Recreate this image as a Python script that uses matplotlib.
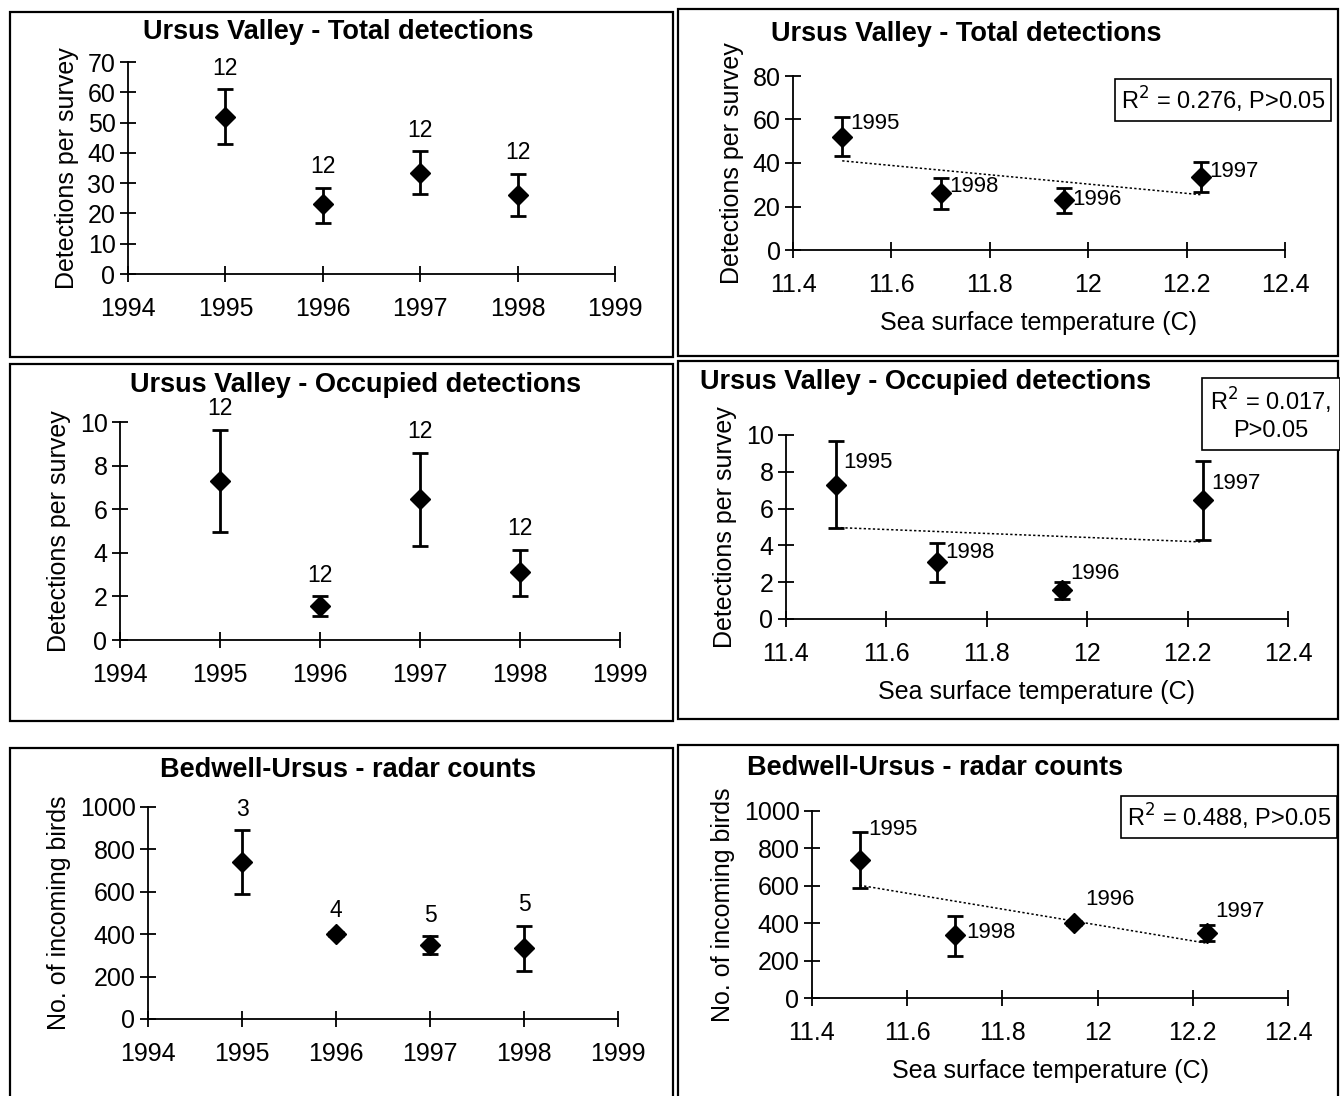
import numpy as np
import matplotlib
matplotlib.use("Agg")
import matplotlib.pyplot as plt
from matplotlib.patches import Rectangle
from matplotlib.ticker import FuncFormatter

plt.rcParams['font.family'] = ['Liberation Sans', 'DejaVu Sans']

# data
years = [1995, 1996, 1997, 1998]
sst = [11.5, 11.95, 12.23, 11.7]
year_lbl = ['1995', '1996', '1997', '1998']

total_mean = [52, 23, 33.5, 26]
total_lo = [43, 17, 26.5, 19]
total_hi = [61, 28.5, 40.5, 33]
total_n = ['12', '12', '12', '12']

occ_mean = [7.3, 1.55, 6.45, 3.1]
occ_lo = [4.95, 1.1, 4.3, 2.0]
occ_hi = [9.65, 2.0, 8.6, 4.15]
occ_n = ['12', '12', '12', '12']

radar_mean = [740, 400, 350, 335]
radar_lo = [590, 390, 305, 225]
radar_hi = [890, 410, 390, 440]
radar_n = ['3', '4', '5', '5']

r2_total = 'R$^2$ = 0.276, P>0.05'
r2_occ = 'R$^2$ = 0.017,\nP>0.05'
r2_radar = 'R$^2$ = 0.488, P>0.05'

W, H = 1340, 1096
fig = plt.figure(figsize=(W / 100, H / 100), dpi=100)


def px_axes(x0, x1, y_top, y_bot):
    return fig.add_axes([x0 / W, 1 - y_bot / H, (x1 - x0) / W, (y_bot - y_top) / H])


def px_box(x0, y0, x1, y1):
    fig.patches.append(Rectangle((x0 / W, 1 - y1 / H), (x1 - x0) / W, (y1 - y0) / H,
                                 transform=fig.transFigure, fill=False, lw=1.6, ec='black'))


def style(ax):
    for s in ['top', 'right']:
        ax.spines[s].set_visible(False)
    for s in ['left', 'bottom']:
        ax.spines[s].set_linewidth(1.3)
    ax.tick_params(direction='inout', length=11, width=1.3, labelsize=18)
    ax.patch.set_visible(False)


def errpts(ax, x, m, lo, hi):
    m = np.array(m)
    yerr = [m - np.array(lo), np.array(hi) - m]
    ax.errorbar(x, m, yerr=yerr, fmt='D', color='black', ms=10, elinewidth=2,
                capsize=6, capthick=2, clip_on=False)


def year_panel(ax, m, lo, hi, n, ylim, step, ylabel):
    style(ax)
    errpts(ax, years, m, lo, hi)
    for x, h, t in zip(years, hi, n):
        ax.annotate(t, (x, h), xytext=(0, 7), textcoords='offset points',
                    ha='center', va='bottom', fontsize=16.5)
    ax.set_xlim(1994, 1999)
    ax.set_ylim(0, ylim)
    ax.set_xticks(range(1994, 2000))
    ax.set_yticks(np.arange(0, ylim + step / 2, step))
    ax.tick_params(axis='x', pad=11)
    ax.set_ylabel(ylabel, fontsize=18, labelpad=6)


def sst_panel(ax, m, lo, hi, ylim, step, ylabel, offs):
    style(ax)
    errpts(ax, sst, m, lo, hi)
    k, b = np.polyfit(sst, m, 1)
    xs = np.array([min(sst), max(sst)])
    ax.plot(xs, k * xs + b, ls=(0, (1.5, 1.5)), color='black', lw=1.1)
    for x, y, t, o in zip(sst, m, year_lbl, offs):
        ax.annotate(t, (x, y), xytext=o, textcoords='offset points',
                    ha='left', va='center', fontsize=16)
    ax.set_xlim(11.4, 12.4)
    ax.set_ylim(0, ylim)
    ax.set_xticks(np.arange(11.4, 12.41, 0.2))
    ax.xaxis.set_major_formatter(FuncFormatter(lambda v, p: '%g' % round(v, 1)))
    ax.set_yticks(np.arange(0, ylim + step / 2, step))
    ax.tick_params(axis='x', pad=11)
    ax.set_ylabel(ylabel, fontsize=18, labelpad=6)
    ax.set_xlabel('Sea surface temperature (C)', fontsize=18, labelpad=10)


# panel borders
px_box(10, 12, 673, 357)
px_box(678, 9, 1338, 356)
px_box(10, 364, 673, 721)
px_box(678, 361, 1338, 719)
px_box(10, 748, 673, 1100)
px_box(678, 745, 1338, 1100)

# top left
ax = px_axes(128, 615, 62, 274)
year_panel(ax, total_mean, total_lo, total_hi, total_n, 70, 10, 'Detections per survey')
fig.text(338 / W, 1 - 32 / H, 'Ursus Valley - Total detections', ha='center', va='center',
         fontsize=19.5, fontweight='bold')

# top right
ax = px_axes(793, 1285, 76, 250)
sst_panel(ax, total_mean, total_lo, total_hi, 80, 20, 'Detections per survey',
          [(6, 10), (6, 0), (6, 4), (6, 5)])
fig.text(771 / W, 1 - 34 / H, 'Ursus Valley - Total detections', ha='left', va='center',
         fontsize=19.5, fontweight='bold')
fig.text(1223 / W, 1 - 100 / H, r2_total, ha='center', va='center', fontsize=17,
         bbox=dict(boxstyle='square,pad=0.25', fc='white', ec='black', lw=1.2))

# middle left
ax = px_axes(120, 620, 422, 640)
year_panel(ax, occ_mean, occ_lo, occ_hi, occ_n, 10, 2, 'Detections per survey')
fig.text(356 / W, 1 - 385 / H, 'Ursus Valley - Occupied detections', ha='center', va='center',
         fontsize=19.5, fontweight='bold')

# middle right
ax = px_axes(786, 1288, 435, 619)
sst_panel(ax, occ_mean, occ_lo, occ_hi, 10, 2, 'Detections per survey',
          [(5, 16), (6, 12), (6, 12), (6, 7)])
fig.text(700 / W, 1 - 382 / H, 'Ursus Valley - Occupied detections', ha='left', va='center',
         fontsize=19.5, fontweight='bold')
fig.text(1271 / W, 1 - 414 / H, r2_occ, ha='center', va='center', fontsize=17,
         linespacing=1.2,
         bbox=dict(boxstyle='square,pad=0.35', fc='white', ec='black', lw=1.2))

# bottom left
ax = px_axes(148, 618, 807, 1019)
year_panel(ax, radar_mean, radar_lo, radar_hi, radar_n, 1000, 200, 'No. of incoming birds')
fig.text(348 / W, 1 - 770 / H, 'Bedwell-Ursus - radar counts', ha='center', va='center',
         fontsize=19.5, fontweight='bold')

# bottom right
ax = px_axes(812, 1288, 811, 998)
sst_panel(ax, radar_mean, radar_lo, radar_hi, 1000, 200, 'No. of incoming birds',
          [(6, 22), (8, 17), (6, 15), (8, 2)])
fig.text(747 / W, 1 - 768 / H, 'Bedwell-Ursus - radar counts', ha='left', va='center',
         fontsize=19.5, fontweight='bold')
fig.text(1229 / W, 1 - 817 / H, r2_radar, ha='center', va='center', fontsize=17,
         bbox=dict(boxstyle='square,pad=0.25', fc='white', ec='black', lw=1.2))

fig.savefig('out.png', dpi=100)
